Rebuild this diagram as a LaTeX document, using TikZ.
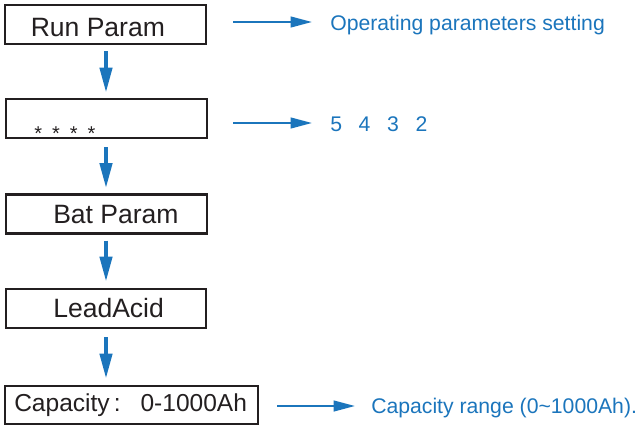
\documentclass[tikz,border=0pt]{standalone}
\usepackage{fontspec}
\setmainfont{Liberation Sans}
\usetikzlibrary{arrows.meta}
\definecolor{flowblue}{HTML}{1B75BC}
\definecolor{ink}{HTML}{231F20}
\tikzset{
  box/.style={draw=ink, line width=1.6pt, rectangle, inner sep=0pt},
  boxtext/.style={anchor=base west, inner sep=0pt, text=ink, font=\fontsize{19.9pt}{22pt}\selectfont},
  note/.style={anchor=base west, inner sep=0pt, text=flowblue, font=\fontsize{15.9pt}{18pt}\selectfont},
  downarrow/.style={draw=flowblue, line width=3.2pt, -{Triangle[length=19pt, width=9pt]}},
  rightarrow/.style={draw=flowblue, line width=1.6pt, -{Triangle[length=16pt, width=8pt]}},
}
\begin{document}
\begin{tikzpicture}[x=0.75pt, y=-0.75pt]
\useasboundingbox (0,0) rectangle (638,425);
% boxes
\node[box, minimum width=201*0.75pt, minimum height=39*0.75pt] (b1) at (105.5,24.5) {};
\node[box, minimum width=201*0.75pt, minimum height=39*0.75pt] (b2) at (106.5,118.5) {};
\node[box, minimum width=201*0.75pt, minimum height=39*0.75pt] (b3) at (106.5,214) {};
\node[box, minimum width=200*0.75pt, minimum height=39*0.75pt] (b4) at (106,308.5) {};
\node[box, minimum width=253*0.75pt, minimum height=38*0.75pt] (b5) at (131.5,405) {};
% box texts
\node[boxtext] (t1) at (30.5,36) {Run Param};
\node[boxtext, font=\fontsize{15pt}{18pt}\selectfont] (t2) at (34,140) {*\hspace{7.5pt}*\hspace{7.5pt}*\hspace{7.5pt}*};
\node[boxtext] (t3) at (53,223) {Bat Param};
\node[boxtext] (t4) at (53,317) {LeadAcid};
\node[boxtext, font=\fontsize{18.4pt}{22pt}\selectfont] (t5) at (14,411.5) {Capacity\,:\hspace{15pt}0-1000Ah};
% vertical arrows
\draw[downarrow] ([yshift=-6*0.75pt]b1.south -| 106,0) -- ([yshift=5*0.75pt]b2.north -| 106,0);
\draw[downarrow] ([yshift=-8*0.75pt]b2.south -| 106,0) -- ([yshift=5*0.75pt]b3.north -| 106,0);
\draw[downarrow] ([yshift=-6*0.75pt]b3.south -| 106,0) -- ([yshift=6*0.75pt]b4.north -| 106,0);
\draw[downarrow] ([yshift=-8*0.75pt]b4.south -| 106,0) -- ([yshift=6*0.75pt]b5.north -| 106,0);
% side notes
\node[note] (n1) at (330,30) {Operating parameters setting};
\node[note] (n2) at (330,131) {5\hspace{12.5pt}4\hspace{12.5pt}3\hspace{12.5pt}2};
\node[note] (n3) at (371,413) {Capacity range (0\textasciitilde1000Ah).};
\coordinate (a1) at (233,22);
\coordinate (a2) at (233,123);
\coordinate (a3) at (277,406);
\coordinate (e1) at (312,22);
\coordinate (e2) at (312,123);
\coordinate (e3) at (355,406);
\draw[rightarrow] (a1) -- (e1);
\draw[rightarrow] (a2) -- (e2);
\draw[rightarrow] (a3) -- (e3);
\end{tikzpicture}
\end{document}
